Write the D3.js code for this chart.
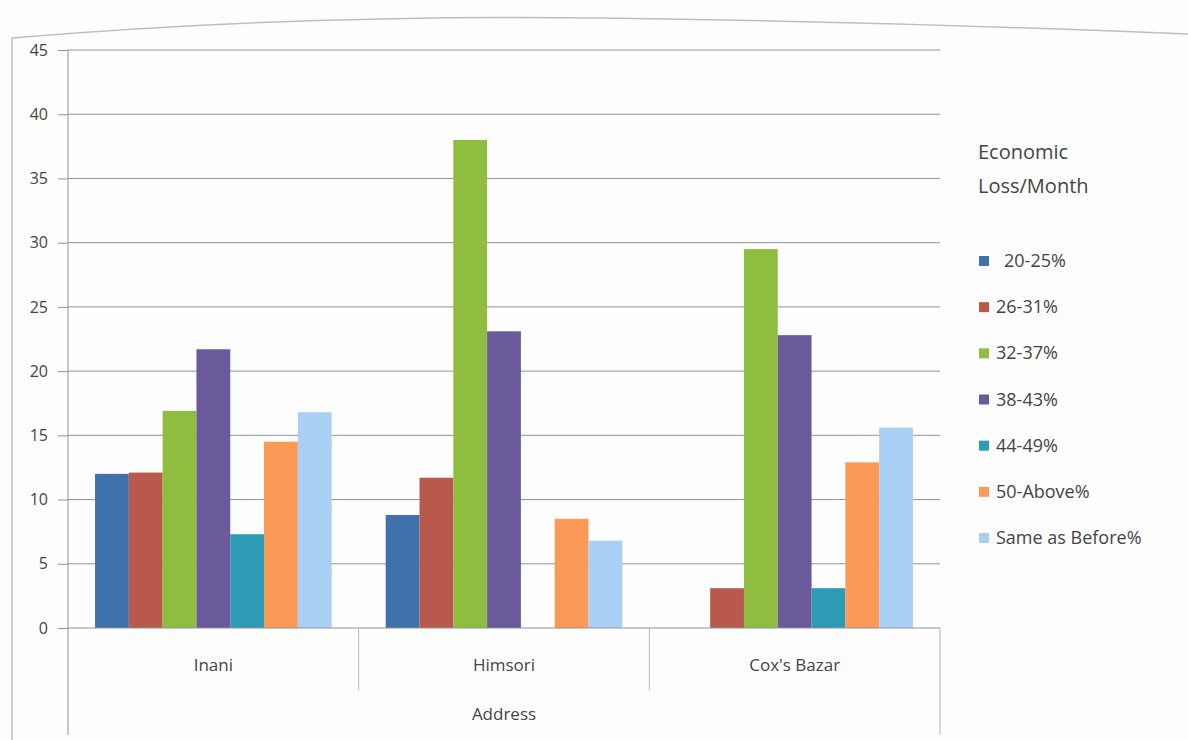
<!DOCTYPE html>
<html>
<head>
<meta charset="utf-8">
<script src="https://cdn.jsdelivr.net/npm/d3@7"></script>
<style>
  html, body { margin: 0; padding: 0; background: #fdfdfd; }
  svg { display: block; }
  text { font-family: "Open Sans", "Noto Sans", sans-serif; fill: #444; }
</style>
</head>
<body>
<svg id="chart" width="1188" height="740"></svg>
<script>
// Categories (places) and loss brackets
const places = ["Inani", "Himsori", "Cox's Bazar"];
const brackets = ["20-25%", "26-31%", "32-37%", "38-43%", "44-49%", "50-Above%", "Same as Before%"];

// Share of respondents per bracket, one array per place
const inani   = [12, 12.1, 16.9, 21.7, 7.3, 14.5, 16.8];
const himsori = [8.8, 11.7, 38, 23.1, 0, 8.5, 6.8];
const coxs    = [0, 3.1, 29.5, 22.8, 3.1, 12.9, 15.6];

const yTicks = [0, 5, 10, 15, 20, 25, 30, 35, 40, 45];
const colors = ["#3f72ad", "#b8594b", "#8fbd40", "#6a5a9c", "#2d9ab6", "#fb9a56", "#a9d0f4"];

const rows = [inani, himsori, coxs];

const svg = d3.select("#chart");
const plotL = 68, plotR = 940, plotT = 50, plotB = 628;

const x = d3.scaleBand().domain(places).range([plotL, plotR]).paddingInner(0).paddingOuter(0);
const xs = d3.scaleBand().domain(brackets).range([0, x.bandwidth()]).paddingInner(0).paddingOuter(0.8);
const y = d3.scaleLinear().domain([0, 45]).range([plotB, plotT]);
const color = d3.scaleOrdinal().domain(brackets).range(colors);

// Outer frame of the chart area
svg.append("path")
  .attr("d", "M12,740 L12,38 Q300,14 600,18 Q900,22 1188,34")
  .attr("fill", "none").attr("stroke", "#b9c0c4").attr("stroke-width", 1.5);

// Horizontal gridlines
svg.append("g").selectAll("line").data(yTicks.filter(d => d > 0)).join("line")
  .attr("x1", plotL).attr("x2", plotR)
  .attr("y1", d => y(d)).attr("y2", d => y(d))
  .attr("stroke", "#8e9598").attr("stroke-width", 1);

// Y axis with outward ticks
const yAxis = d3.axisLeft(y).tickValues(yTicks).tickSize(10).tickPadding(10);
const gy = svg.append("g").attr("transform", `translate(${plotL},0)`).call(yAxis);
gy.select(".domain").remove();
gy.selectAll(".tick line").attr("stroke", "#8e9598");
gy.selectAll(".tick text").style("font-size", "16px").style("fill", "#444")
  .style("font-family", "'Open Sans', sans-serif");

// Bars
const groups = svg.append("g").selectAll("g").data(places).join("g")
  .attr("transform", d => `translate(${x(d)},0)`);
groups.selectAll("rect")
  .data((p, i) => brackets.map((b, j) => ({ b, v: rows[i][j] })))
  .join("rect")
  .attr("x", d => xs(d.b))
  .attr("width", xs.bandwidth())
  .attr("y", d => y(d.v))
  .attr("height", d => y(0) - y(d.v))
  .attr("fill", d => color(d.b));

// Baseline and vertical axis line running down through the label boxes
svg.append("line").attr("x1", plotL).attr("x2", plotR).attr("y1", plotB).attr("y2", plotB)
  .attr("stroke", "#8e9598");
svg.append("line").attr("x1", plotL).attr("x2", plotL).attr("y1", plotT).attr("y2", 735)
  .attr("stroke", "#8e9598");
svg.append("line").attr("x1", plotR).attr("x2", plotR).attr("y1", plotB).attr("y2", 735)
  .attr("stroke", "#b0b6b9");

// Category divider lines
const dividers = places.slice(1).map(p => x(p));
svg.append("g").selectAll("line").data(dividers).join("line")
  .attr("x1", d => d).attr("x2", d => d).attr("y1", plotB).attr("y2", 690)
  .attr("stroke", "#b0b6b9");

// Category labels
svg.append("g").selectAll("text").data(places).join("text")
  .attr("x", d => x(d) + x.bandwidth() / 2)
  .attr("y", 671)
  .attr("text-anchor", "middle")
  .style("font-size", "17px")
  .text(d => d);

// Axis title
svg.append("text").attr("x", (plotL + plotR) / 2).attr("y", 720)
  .attr("text-anchor", "middle").style("font-size", "17px").text("Address");

// Legend
const lg = svg.append("g").attr("transform", "translate(978,0)");
lg.append("text").attr("x", 0).attr("y", 159).style("font-size", "20px").text("Economic");
lg.append("text").attr("x", 0).attr("y", 193).style("font-size", "20px").text("Loss/Month");
const legendY = d3.scalePoint().domain(brackets).range([261, 538]);
const items = lg.selectAll("g.item").data(brackets).join("g").attr("class", "item")
  .attr("transform", d => `translate(0,${legendY(d)})`);
items.append("rect").attr("x", 1).attr("y", -5).attr("width", 10).attr("height", 10)
  .attr("fill", d => color(d));
items.append("text").attr("x", d => d === "20-25%" ? 26 : 18).attr("y", 6)
  .style("font-size", "18px").text(d => d);
</script>
</body>
</html>
